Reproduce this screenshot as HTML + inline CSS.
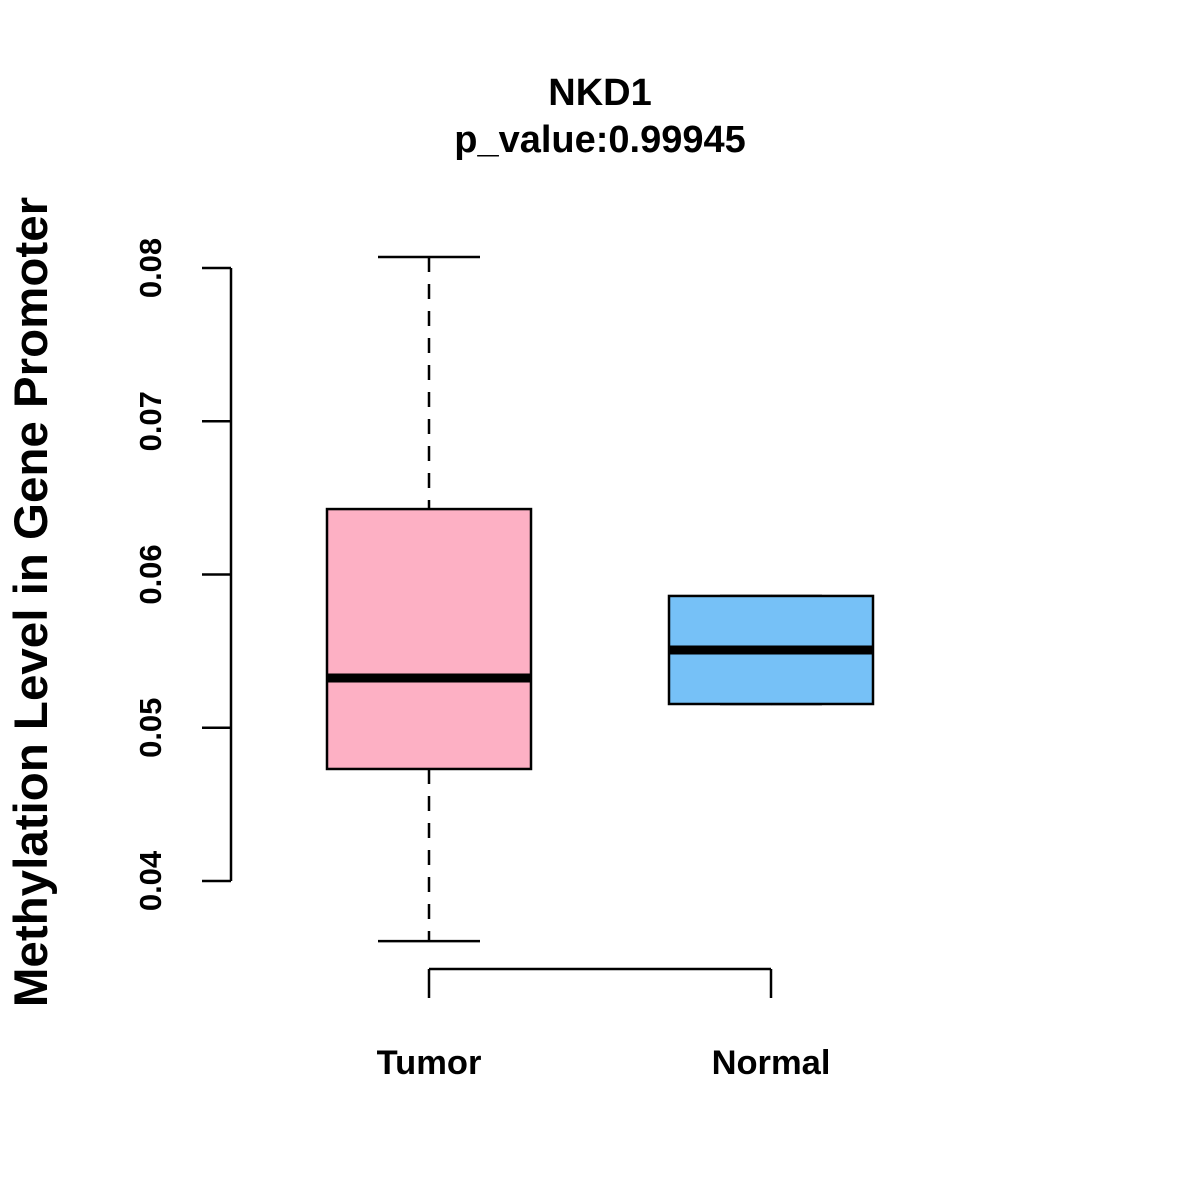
<!DOCTYPE html>
<html><head><meta charset="utf-8"><style>
body{margin:0;background:#fff}
svg{display:block;font-family:"Liberation Sans",Arial,sans-serif;font-weight:bold}
</style></head><body>
<svg id="chart" width="1200" height="1200" viewBox="0 0 1200 1200">
<rect width="1200" height="1200" fill="#fff"/>
<text x="600" y="105" font-size="38" text-anchor="middle">NKD1</text>
<text x="600" y="152" font-size="38" text-anchor="middle">p_value:0.99945</text>
<text transform="translate(47,602) rotate(-90)" font-size="47.5" text-anchor="middle">Methylation Level in Gene Promoter</text>
<g id="yaxis"></g>
<g id="xaxis"></g>
<g id="boxes"></g>
</svg>
<script>
const categories=["Tumor","Normal"];
const lowerWhisker=[0.03608,0.05155];
const q1=[0.04731,0.05155];
const medians=[0.05325,0.05507];
const q3=[0.06427,0.0586];
const upperWhisker=[0.08072,0.0586];
const colors=["#FDB0C4","#76C1F7"];
const yTicks=[0.04,0.05,0.06,0.07,0.08];
const yTickLabels=["0.04","0.05","0.06","0.07","0.08"];
const NS="http://www.w3.org/2000/svg";
function y(v){return 881-(v-0.04)*15325;}
function x(i){return 429+i*342;}
function mk(tag,attrs,parent,txt){const e=document.createElementNS(NS,tag);for(const k in attrs)e.setAttribute(k,attrs[k]);if(txt!==undefined)e.textContent=txt;parent.appendChild(e);return e;}
const ya=document.getElementById('yaxis');
mk('line',{x1:231,x2:231,y1:y(yTicks[yTicks.length-1]),y2:y(yTicks[0]),stroke:'#000','stroke-width':2.5},ya);
yTicks.forEach((t,i)=>{
 const l=mk('line',{x1:202,x2:231,y1:y(t),y2:y(t),stroke:'#000','stroke-width':2.5},ya);
 
 
 const tx=mk('text',{transform:`translate(161,${y(t)}) rotate(-90)`,'font-size':31,'text-anchor':'middle'},ya,yTickLabels[i]);
 
 
});
const xa=document.getElementById('xaxis');
mk('line',{x1:x(0),x2:x(categories.length-1),y1:969,y2:969,stroke:'#000','stroke-width':2.5},xa);
categories.forEach((c,i)=>{
 const l=mk('line',{x1:x(i),x2:x(i),y1:969,y2:998,stroke:'#000','stroke-width':2.5},xa);
 
 
 const tx=mk('text',{x:x(i),y:1074,'font-size':34.5,'text-anchor':'middle'},xa,c);
 
 
});
const bx=document.getElementById('boxes');
categories.forEach((c,i)=>{
 const g=mk('g',{},bx);
 
 
 const cx=x(i),hw=102,cw=51;
 mk('line',{x1:cx,x2:cx,y1:y(upperWhisker[i]),y2:y(q3[i]),stroke:'#000','stroke-width':2.5,'stroke-dasharray':'15,12'},g);
 mk('line',{x1:cx,x2:cx,y1:y(q1[i]),y2:y(lowerWhisker[i]),stroke:'#000','stroke-width':2.5,'stroke-dasharray':'15,12'},g);
 mk('line',{x1:cx-cw,x2:cx+cw,y1:y(upperWhisker[i]),y2:y(upperWhisker[i]),stroke:'#000','stroke-width':2.5},g);
 mk('line',{x1:cx-cw,x2:cx+cw,y1:y(lowerWhisker[i]),y2:y(lowerWhisker[i]),stroke:'#000','stroke-width':2.5},g);
 mk('rect',{x:cx-hw,y:y(q3[i]),width:hw*2,height:y(q1[i])-y(q3[i]),fill:colors[i],stroke:'#000','stroke-width':2.5},g);
 mk('line',{x1:cx-hw,x2:cx+hw,y1:y(medians[i]),y2:y(medians[i]),stroke:'#000','stroke-width':9},g);
});
</script>
</body></html>
